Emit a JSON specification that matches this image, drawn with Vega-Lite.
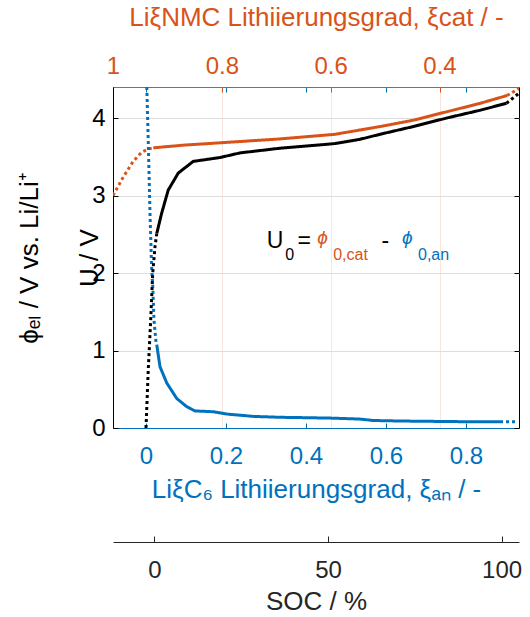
{
  "$schema": "https://vega.github.io/schema/vega-lite/v6.json",
  "width": 406,
  "height": 341,
  "autosize": {"type": "none"},
  "padding": {"left": 113, "top": 87, "right": 11, "bottom": 189},
  "config": {
    "font": "Liberation Sans",
    "view": {"stroke": "black", "strokeWidth": 1},
    "axis": {"labelFont": "Liberation Sans", "titleFont": "Liberation Sans", "titleFontWeight": "normal", "labelFontSize": 24, "titleFontSize": 26, "domainWidth": 1, "tickWidth": 1, "labelFlush": false}
  },
  "datasets": {
    "cathode": [
      {"xi": 1.0, "v": 3.0, "seg": "dot1"},
      {"xi": 0.981, "v": 3.24, "seg": "dot1"},
      {"xi": 0.963, "v": 3.44, "seg": "dot1"},
      {"xi": 0.947, "v": 3.56, "seg": "dot1"},
      {"xi": 0.935, "v": 3.6, "seg": "dot1"},
      {"xi": 0.926, "v": 3.615, "seg": "dot1"},
      {"xi": 0.926, "v": 3.615, "seg": "solid"},
      {"xi": 0.87, "v": 3.65, "seg": "solid"},
      {"xi": 0.803, "v": 3.68, "seg": "solid"},
      {"xi": 0.693, "v": 3.73, "seg": "solid"},
      {"xi": 0.592, "v": 3.79, "seg": "solid"},
      {"xi": 0.509, "v": 3.89, "seg": "solid"},
      {"xi": 0.449, "v": 3.97, "seg": "solid"},
      {"xi": 0.387, "v": 4.08, "seg": "solid"},
      {"xi": 0.325, "v": 4.19, "seg": "solid"},
      {"xi": 0.276, "v": 4.29, "seg": "solid"},
      {"xi": 0.276, "v": 4.29, "seg": "dot2"},
      {"xi": 0.254, "v": 4.38, "seg": "dot2"}
    ],
    "anode": [
      {"xi": 0.002, "v": 4.4, "seg": "dot1"},
      {"xi": 0.006, "v": 3.63, "seg": "dot1"},
      {"xi": 0.01, "v": 2.77, "seg": "dot1"},
      {"xi": 0.014, "v": 2.08, "seg": "dot1"},
      {"xi": 0.017, "v": 1.82, "seg": "dot1"},
      {"xi": 0.02, "v": 1.39, "seg": "dot1"},
      {"xi": 0.025, "v": 1.11, "seg": "dot1"},
      {"xi": 0.027, "v": 1.07, "seg": "dot1"},
      {"xi": 0.027, "v": 1.07, "seg": "solid"},
      {"xi": 0.035, "v": 0.79, "seg": "solid"},
      {"xi": 0.052, "v": 0.58, "seg": "solid"},
      {"xi": 0.077, "v": 0.38, "seg": "solid"},
      {"xi": 0.102, "v": 0.275, "seg": "solid"},
      {"xi": 0.1225, "v": 0.22, "seg": "solid"},
      {"xi": 0.168, "v": 0.21, "seg": "solid"},
      {"xi": 0.202, "v": 0.18, "seg": "solid"},
      {"xi": 0.268, "v": 0.15, "seg": "solid"},
      {"xi": 0.335, "v": 0.138, "seg": "solid"},
      {"xi": 0.402, "v": 0.133, "seg": "solid"},
      {"xi": 0.468, "v": 0.127, "seg": "solid"},
      {"xi": 0.535, "v": 0.115, "seg": "solid"},
      {"xi": 0.568, "v": 0.097, "seg": "solid"},
      {"xi": 0.635, "v": 0.09, "seg": "solid"},
      {"xi": 0.802, "v": 0.081, "seg": "solid"},
      {"xi": 0.885, "v": 0.08, "seg": "solid"},
      {"xi": 0.885, "v": 0.08, "seg": "dot2"},
      {"xi": 0.927, "v": 0.08, "seg": "dot2"}
    ],
    "full": [
      {"soc": -2.4, "v": 0.0, "seg": "dot1"},
      {"soc": -1.75, "v": 0.75, "seg": "dot1"},
      {"soc": -1.05, "v": 1.39, "seg": "dot1"},
      {"soc": -0.46, "v": 2.0, "seg": "dot1"},
      {"soc": 0.2, "v": 2.34, "seg": "dot1"},
      {"soc": 0.7, "v": 2.51, "seg": "dot1"},
      {"soc": 0.7, "v": 2.51, "seg": "solid"},
      {"soc": 2.1, "v": 2.77, "seg": "solid"},
      {"soc": 4.0, "v": 3.07, "seg": "solid"},
      {"soc": 6.9, "v": 3.29, "seg": "solid"},
      {"soc": 11.2, "v": 3.44, "seg": "solid"},
      {"soc": 18.9, "v": 3.49, "seg": "solid"},
      {"soc": 24.7, "v": 3.55, "seg": "solid"},
      {"soc": 36.2, "v": 3.61, "seg": "solid"},
      {"soc": 52.0, "v": 3.67, "seg": "solid"},
      {"soc": 59.2, "v": 3.725, "seg": "solid"},
      {"soc": 65.0, "v": 3.79, "seg": "solid"},
      {"soc": 74.6, "v": 3.89, "seg": "solid"},
      {"soc": 84.2, "v": 4.0, "seg": "solid"},
      {"soc": 93.8, "v": 4.1, "seg": "solid"},
      {"soc": 101.4, "v": 4.19, "seg": "solid"},
      {"soc": 101.4, "v": 4.19, "seg": "dot2"},
      {"soc": 105, "v": 4.32, "seg": "dot2"}
    ],
    "ann_main": [
      {"xi": 0.302, "v": 2.319, "t": "U", "term": "U"},
      {"xi": 0.379, "v": 2.319, "t": "=", "term": "U"},
      {"xi": 0.589, "v": 2.319, "t": "-", "term": "U"}
    ],
    "ann_phi": [
      {"xi": 0.428, "v": 2.37, "t": "ϕ", "term": "cat"},
      {"xi": 0.64, "v": 2.37, "t": "ϕ", "term": "an"}
    ],
    "ann_sub": [
      {"xi": 0.348, "v": 2.168, "t": "0", "term": "U"},
      {"xi": 0.468, "v": 2.168, "t": "0,cat", "term": "cat"},
      {"xi": 0.68, "v": 2.168, "t": "0,an", "term": "an"}
    ]
  },
  "layer": [
    {
      "data": {"name": "cathode"},
      "mark": {"type": "line", "color": "#D95319", "strokeWidth": 3, "clip": true},
      "encoding": {
        "x": {
          "field": "xi",
          "type": "quantitative",
          "scale": {"domain": [0.254, 1], "reverse": true, "nice": false, "zero": false},
          "axis": {
            "orient": "top",
            "values": [1, 0.8, 0.6, 0.4],
            "format": "~g",
            "title": "LiξNMC Lithiierungsgrad, ξcat / -",
            "titleColor": "#D95319",
            "labelColor": "#D95319",
            "domainColor": "#D95319",
            "tickColor": "#D95319",
            "tickSize": -5,
            "labelPadding": 14,
            "titleY": -62,
            "titleBaseline": "alphabetic",
            "grid": true,
            "gridColor": "#D95319",
            "gridOpacity": 0.15
          }
        },
        "y": {
          "field": "v",
          "type": "quantitative",
          "scale": {"domain": [0, 4.4], "nice": false, "zero": false},
          "axis": {
            "orient": "left",
            "values": [0, 1, 2, 3, 4],
            "title": ["ϕₑₗ / V vs. Li/Li⁺", "U / V"],
            "titleLineHeight": 60,
            "titleX": -76,
            "titleY": 170.5,
            "titleAngle": -90,
            "titleAlign": "center",
            "titleBaseline": "alphabetic",
            "titleColor": "black",
            "labelColor": "black",
            "labelPadding": 13,
            "tickSize": -5,
            "tickColor": "black",
            "domainColor": "black",
            "grid": true,
            "gridColor": "#dedede"
          }
        },
        "strokeDash": {"field": "seg", "type": "nominal", "scale": {"domain": ["solid", "dot1", "dot2"], "range": [[1, 0], [3, 3], [3, 3]]}, "legend": null}
      }
    },
    {
      "encoding": {
        "y": {
          "field": "v",
          "type": "quantitative",
          "axis": {
            "orient": "right",
            "values": [0, 1, 2, 3, 4],
            "labels": false,
            "title": null,
            "domain": false,
            "grid": false,
            "tickSize": -5,
            "tickColor": "black"
          }
        }
      },
      "layer": [
        {
          "data": {"name": "anode"},
          "mark": {"type": "line", "color": "#0072BD", "strokeWidth": 3, "clip": true},
          "encoding": {
            "x": {
              "field": "xi",
              "type": "quantitative",
              "scale": {"domain": [-0.0825, 0.9325], "nice": false, "zero": false},
              "axis": {
                "orient": "bottom",
                "values": [0, 0.2, 0.4, 0.6, 0.8],
                "format": "~g",
                "title": "LiξC₆ Lithiierungsgrad, ξₐₙ / -",
                "titleColor": "#0072BD",
                "labelColor": "#0072BD",
                "domainColor": "#0072BD",
                "tickColor": "#0072BD",
                "tickSize": -5,
                "labelPadding": 21,
                "titleY": 69,
                "titleBaseline": "alphabetic",
                "grid": false
              }
            },
            "strokeDash": {"field": "seg", "type": "nominal", "scale": {"domain": ["solid", "dot1", "dot2"], "range": [[1, 0], [3, 3], [3, 3]]}, "legend": null}
          }
        },
        {
          "data": {"name": "ann_main"},
          "mark": {"type": "text", "align": "left", "baseline": "alphabetic", "fontSize": 23},
          "encoding": {
            "x": {
              "field": "xi",
              "type": "quantitative",
              "scale": {"domain": [-0.0825, 0.9325], "nice": false, "zero": false},
              "axis": {
                "orient": "top",
                "values": [0, 0.2, 0.4, 0.6, 0.8],
                "labels": false,
                "title": null,
                "domain": false,
                "grid": false,
                "tickSize": -5,
                "tickColor": "#0072BD"
              }
            },
            "text": {"field": "t"},
            "color": {"field": "term", "type": "nominal", "scale": {"domain": ["U", "cat", "an"], "range": ["black", "#D95319", "#0072BD"]}, "legend": null}
          }
        },
        {
          "data": {"name": "ann_phi"},
          "mark": {"type": "text", "align": "left", "baseline": "alphabetic", "fontSize": 19, "fontStyle": "italic"},
          "encoding": {
            "x": {"field": "xi", "type": "quantitative", "scale": {"domain": [-0.0825, 0.9325], "nice": false, "zero": false}, "axis": null},
            "text": {"field": "t"},
            "color": {"field": "term", "type": "nominal", "scale": {"domain": ["U", "cat", "an"], "range": ["black", "#D95319", "#0072BD"]}, "legend": null}
          }
        },
        {
          "data": {"name": "ann_sub"},
          "mark": {"type": "text", "align": "left", "baseline": "alphabetic", "fontSize": 16},
          "encoding": {
            "x": {"field": "xi", "type": "quantitative", "scale": {"domain": [-0.0825, 0.9325], "nice": false, "zero": false}, "axis": null},
            "text": {"field": "t"},
            "color": {"field": "term", "type": "nominal", "scale": {"domain": ["U", "cat", "an"], "range": ["black", "#D95319", "#0072BD"]}, "legend": null}
          }
        }
      ],
      "resolve": {"axis": {"x": "independent"}}
    },
    {
      "data": {"name": "full"},
      "mark": {"type": "line", "color": "black", "strokeWidth": 3, "clip": true},
      "encoding": {
        "x": {
          "field": "soc",
          "type": "quantitative",
          "scale": {"domain": [-11.9, 105], "nice": false, "zero": false},
          "axis": {
            "orient": "bottom",
            "offset": 114,
            "values": [0, 50, 100],
            "title": "SOC / %",
            "titleColor": "#262626",
            "labelColor": "#262626",
            "domainColor": "#262626",
            "tickColor": "#262626",
            "tickSize": -6,
            "labelPadding": 22,
            "titleY": 67,
            "titleBaseline": "alphabetic",
            "grid": false
          }
        },
        "y": {"field": "v", "type": "quantitative", "axis": null},
        "strokeDash": {"field": "seg", "type": "nominal", "scale": {"domain": ["solid", "dot1", "dot2"], "range": [[1, 0], [3, 3], [3, 3]]}, "legend": null}
      }
    }
  ],
  "resolve": {"scale": {"x": "independent"}, "axis": {"y": "independent"}}
}
